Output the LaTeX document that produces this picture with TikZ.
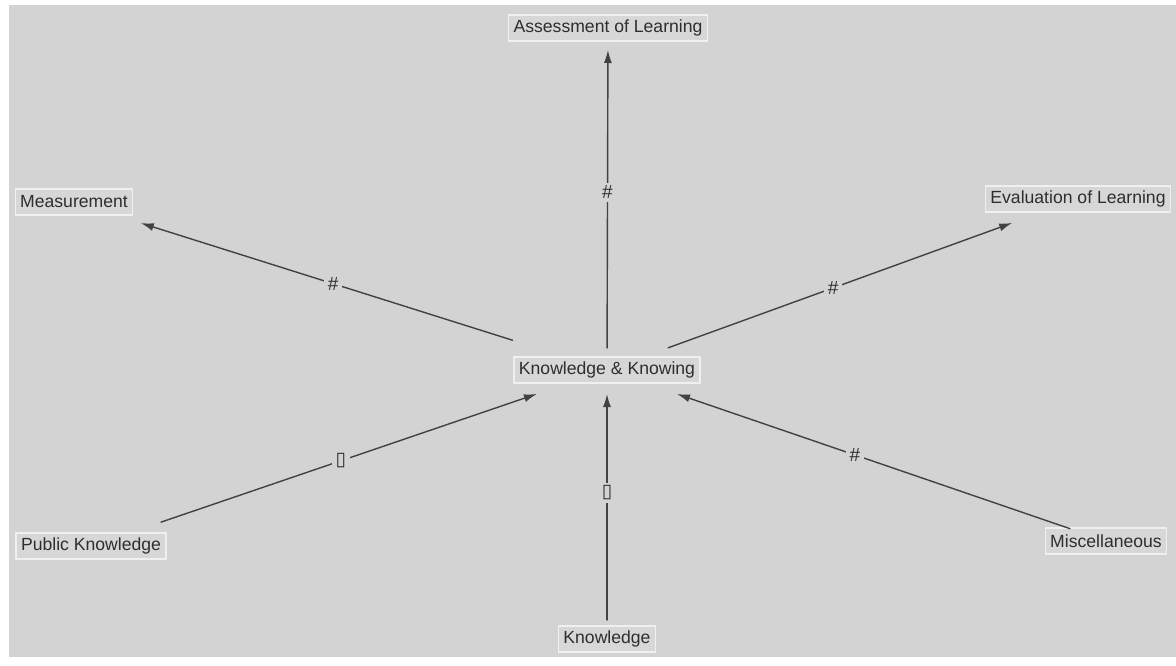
\documentclass[tikz,border=0pt]{standalone}
\usepackage{fontspec}
\setmainfont{Liberation Sans}
\newfontfamily\symfont{DejaVu Sans}
\usetikzlibrary{arrows.meta}
\definecolor{paper}{HTML}{D3D3D3}
\definecolor{boxfill}{HTML}{D7D7D7}
\definecolor{boxline}{HTML}{F0F0F0}
\definecolor{ink}{HTML}{2E2E2E}
\definecolor{wire}{HTML}{424242}
\begin{document}
\begin{tikzpicture}[x=1pt,y=-1pt,line cap=round,line join=round,>={Latex[length=13pt,width=8pt]},
  topic/.style={draw=boxline,line width=1.2pt,fill=boxfill,text=ink,inner xsep=5pt,inner ysep=0pt,
    minimum height=26pt,font=\fontsize{17.6}{20}\selectfont},
  link/.style={draw=wire,line width=1.4pt,->},
  tag/.style={fill=paper,text=ink,inner xsep=4pt,inner ysep=3pt,font=\fontsize{19}{21}\selectfont}]
  \useasboundingbox (0,0) rectangle (1176,665);
  \fill[white] (0,0) rectangle (1176,665);
  \fill[paper] (9,5) rectangle (1176,657);
  \node[topic] (assess) at (608,28) {Assessment of Learning};
  \node[topic] (kk) at (607,370) {Knowledge \& Knowing};
  \node[topic] (meas) at (74,202) {Measurement};
  \node[topic] (eval) at (1078,199) {Evaluation of Learning};
  \node[topic] (public) at (91,546) {Public Knowledge};
  \node[topic] (misc) at (1106,541) {Miscellaneous};
  \node[topic] (know) at (607,639) {Knowledge};
  \draw[link,shorten <=22pt,shorten >=22pt] (kk.center) -- (assess.center)
    node[tag,pos=0.52] (t1) {\#};
  \draw[link,shorten <=99pt,shorten >=70pt] (kk.center) -- (meas.center)
    node[tag,pos=0.514] (t2) {\#};
  \draw[link,shorten <=65pt,shorten >=70pt] (kk.center) -- (eval.center)
    node[tag,pos=0.48] (t3) {\#};
  \draw[link,shorten <=74pt,shorten >=74pt] (public.center) -- (kk.center)
    node[tag,pos=0.484] (t4) {\symfont ▯};
  \draw[link,shorten <=19pt,shorten >=24pt] (know.center) -- (kk.center)
    node[tag,pos=0.543] (t5) {\symfont ▯};
  \draw[link,shorten <=38pt,shorten >=74pt] (misc.center) -- (kk.center)
    node[tag,pos=0.503] (t6) {\#};
\end{tikzpicture}
\end{document}
